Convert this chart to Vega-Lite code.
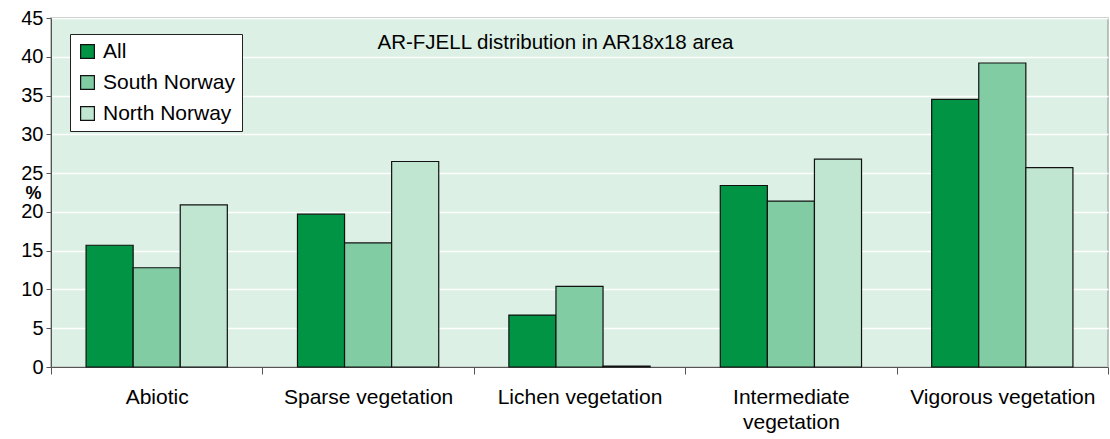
{
  "$schema": "https://vega.github.io/schema/vega-lite/v6.json",
  "width": 1057,
  "height": 349,
  "autosize": "none",
  "padding": {"left": 51, "top": 18, "right": 2, "bottom": 72},
  "background": "white",
  "title": {"text": "AR-FJELL distribution in AR18x18 area", "orient": "top", "anchor": "middle", "offset": -45, "dx": -24, "fontSize": 20.5, "fontWeight": "normal", "font": "Liberation Sans", "color": "#000"},
  "config": {
    "view": {"fill": "#DDF0E5", "stroke": "#A8B0A8", "strokeWidth": 1.5},
    "font": "Liberation Sans"
  },
  "data": {"values": [
    {"cat": "Abiotic", "series": "All", "v": 15.7},
    {"cat": "Abiotic", "series": "South Norway", "v": 12.8},
    {"cat": "Abiotic", "series": "North Norway", "v": 20.9},
    {"cat": "Sparse vegetation", "series": "All", "v": 19.7},
    {"cat": "Sparse vegetation", "series": "South Norway", "v": 16.0},
    {"cat": "Sparse vegetation", "series": "North Norway", "v": 26.5},
    {"cat": "Lichen vegetation", "series": "All", "v": 6.7},
    {"cat": "Lichen vegetation", "series": "South Norway", "v": 10.4},
    {"cat": "Lichen vegetation", "series": "North Norway", "v": 0.1},
    {"cat": "Intermediate vegetation", "series": "All", "v": 23.4},
    {"cat": "Intermediate vegetation", "series": "South Norway", "v": 21.4},
    {"cat": "Intermediate vegetation", "series": "North Norway", "v": 26.8},
    {"cat": "Vigorous vegetation", "series": "All", "v": 34.5},
    {"cat": "Vigorous vegetation", "series": "South Norway", "v": 39.2},
    {"cat": "Vigorous vegetation", "series": "North Norway", "v": 25.7}
  ]},
  "mark": {"type": "bar", "stroke": "#111", "strokeWidth": 1.2},
  "encoding": {
    "x": {
      "field": "cat", "type": "nominal", "sort": null,
      "scale": {"paddingInner": 0, "paddingOuter": 0},
      "axis": {
        "title": null, "labelAngle": 0, "tickBand": "extent", "tickSize": 7, "tickColor": "#555",
        "domainColor": "#555", "labelFontSize": 21, "labelColor": "#000", "labelPadding": 12,
        "labelBaseline": "top", "labelLimit": 400,
        "labelExpr": "datum.label == 'Intermediate vegetation' ? ['Intermediate', 'vegetation'] : datum.label",
        "labelLineHeight": 25
      }
    },
    "xOffset": {
      "field": "series", "type": "nominal", "sort": ["All", "South Norway", "North Norway"],
      "scale": {"paddingInner": 0, "paddingOuter": 0.745}
    },
    "y": {
      "field": "v", "type": "quantitative",
      "scale": {"domain": [0, 45], "nice": false},
      "axis": {
        "values": [0, 5, 10, 15, 20, 25, 30, 35, 40, 45],
        "title": "%", "titleAngle": 0, "titleFontWeight": "bold", "titleFontSize": 18,
        "titleX": -18, "titleY": 175, "titleAlign": "center", "titleBaseline": "middle",
        "labelFontSize": 20, "labelColor": "#000", "tickSize": 5, "tickColor": "#555", "domainColor": "#555",
        "labelPadding": 3, "gridColor": "white", "gridWidth": 1.5
      }
    },
    "fill": {
      "field": "series", "type": "nominal", "sort": ["All", "South Norway", "North Norway"],
      "scale": {"domain": ["All", "South Norway", "North Norway"], "range": ["#009444", "#82CCA4", "#C0E6D2"]},
      "legend": {
        "title": null, "orient": "none", "legendX": 19, "legendY": 16,
        "fillColor": "white", "strokeColor": "#222", "padding": 7,
        "symbolType": "square", "symbolSize": 190, "symbolStrokeColor": "#111", "symbolStrokeWidth": 1.2,
        "labelFontSize": 21, "labelColor": "#000", "rowPadding": 9, "labelOffset": 5,
        "symbolOpacity": 1
      }
    }
  }
}
